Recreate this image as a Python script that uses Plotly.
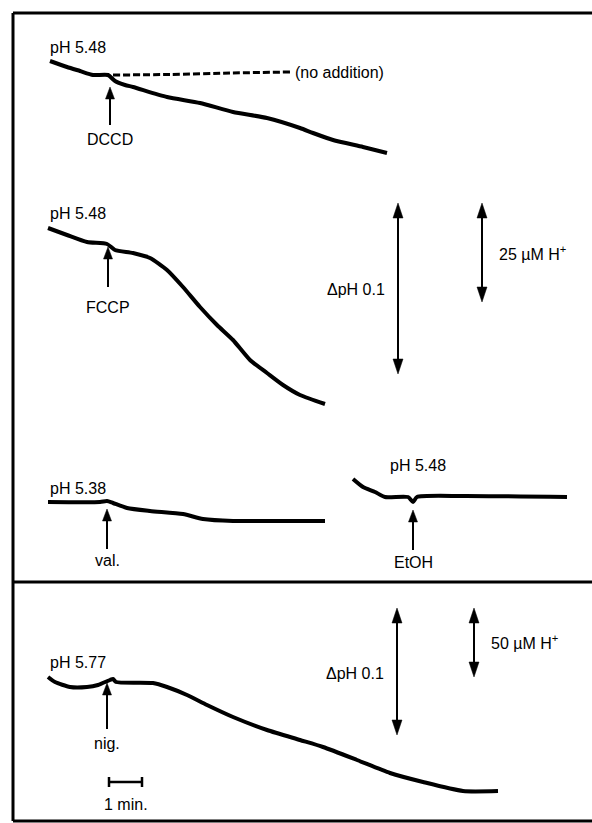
import plotly.graph_objects as go

W, H = 592, 823

dccd_x = [50, 67, 80, 93, 108, 115, 125, 133, 167, 200, 233, 267, 300, 313, 333, 363, 387]
dccd_y = [61, 67, 71, 75, 75, 81, 85, 87, 97, 103, 112, 118, 128, 133, 140, 147, 153]

noadd_x = [113, 170, 230, 290]
noadd_y = [75, 74.5, 73, 72]

fccp_x = [48, 67, 87, 107, 115, 133, 150, 167, 183, 200, 217, 233, 250, 267, 283, 300, 325]
fccp_y = [228, 235, 242, 244, 250, 253, 258, 270, 287, 307, 325, 340, 360, 373, 385, 395, 404]

val_x = [48, 100, 107, 113, 127, 150, 183, 203, 233, 283, 325]
val_y = [502, 502, 501, 503, 508, 511, 514, 519, 521, 521, 521]

etoh_x = [353, 363, 375, 385, 408, 413, 417, 463, 567]
etoh_y = [479, 487, 492, 497, 497, 502, 497, 496, 497]

nig_x = [48, 55, 70, 87, 98, 110, 113, 116, 153, 167, 187, 207, 233, 267, 300, 323, 357, 390, 423, 463, 498]
nig_y = [677, 682, 687, 687, 685, 680, 679, 682, 683, 687, 695, 705, 717, 730, 740, 747, 760, 773, 782, 791, 791]

# ---- additions (arrows under traces) ----
add_labels = ["DCCD", "FCCP", "val.", "EtOH", "nig."]
add_x = [110, 108, 107, 413, 107]
add_tip = [87, 247, 509, 510, 683]
add_base = [125, 287, 549, 550, 729]
add_label_y = [139, 307, 560, 562, 743]

# ---- starting pH labels ----
start_labels = ["pH 5.48", "pH 5.48", "pH 5.38", "pH 5.48", "pH 5.77"]
start_x = [48, 48, 48, 388, 48]
start_y = [47, 213, 488, 465, 662]

# ---- calibration bars ----
cal_x = [398, 482, 397, 474]
cal_top = [203, 203, 608, 608]
cal_bot = [374, 302, 735, 677]
cal_text = ["ΔpH 0.1", "25 µM H<sup>+</sup>", "ΔpH 0.1", "50 µM H<sup>+</sup>"]
cal_text_x = [387, 497, 386, 489]
cal_text_y = [289, 253, 673, 642]
cal_anchor = ["right", "left", "right", "left"]

# ---- time scale bar ----
scale_x = [109, 142]
scale_y = 782
scale_label = "1 min."

FONT = dict(family="Liberation Sans, Arial, Helvetica, sans-serif", size=16, color="black")

fig = go.Figure()

def line_trace(x, y, width=4, dash=None):
    fig.add_trace(go.Scatter(
        x=x, y=y, mode="lines", hoverinfo="skip", showlegend=False,
        line=dict(color="black", width=width, shape="spline", smoothing=0.6, dash=dash)))

for xs, ys in [(dccd_x, dccd_y), (fccp_x, fccp_y), (val_x, val_y), (etoh_x, etoh_y), (nig_x, nig_y)]:
    line_trace(xs, ys)
line_trace(noadd_x, noadd_y, width=3, dash="7px,3px")

def head(x, tip, direction, hw=4.8, hl=13):
    # direction: +1 pointing up (tip above), -1 pointing down
    b = tip + hl * direction
    fig.add_trace(go.Scatter(
        x=[x - hw, x, x + hw, x - hw], y=[b, tip, b, b], mode="lines",
        fill="toself", fillcolor="black", line=dict(color="black", width=0.5),
        hoverinfo="skip", showlegend=False))

def shaft(x, y0, y1, width=2):
    fig.add_trace(go.Scatter(
        x=[x, x], y=[y0, y1], mode="lines", line=dict(color="black", width=width),
        hoverinfo="skip", showlegend=False))

annotations = []

# addition arrows
for lab, x, tip, base, ly in zip(add_labels, add_x, add_tip, add_base, add_label_y):
    head(x, tip, +1, hw=4.5, hl=12)
    shaft(x, tip + 10, base, width=2)
    annotations.append(dict(x=x, y=ly, text=lab, showarrow=False, xanchor="center",
                            yanchor="middle", font=FONT))

# start labels
for lab, x, y in zip(start_labels, start_x, start_y):
    annotations.append(dict(x=x, y=y, text=lab, showarrow=False, xanchor="left",
                            yanchor="middle", font=FONT))

# calibration double arrows
for x, t, b, txt, tx, ty, anc in zip(cal_x, cal_top, cal_bot, cal_text, cal_text_x, cal_text_y, cal_anchor):
    head(x, t, +1, hw=5, hl=15)
    head(x, b, -1, hw=5, hl=15)
    shaft(x, t + 12, b - 12, width=2)
    annotations.append(dict(x=tx, y=ty, text=txt, showarrow=False, xanchor=anc,
                            yanchor="middle", font=FONT))

# no addition label
annotations.append(dict(x=293, y=72, text="(no addition)", showarrow=False, xanchor="left",
                        yanchor="middle", font=FONT))

# time scale bar
shaft(scale_x[0], scale_y - 5, scale_y + 5, width=2.5)
shaft(scale_x[1], scale_y - 5, scale_y + 5, width=2.5)
fig.add_trace(go.Scatter(x=scale_x, y=[scale_y, scale_y], mode="lines",
                         line=dict(color="black", width=2.5), hoverinfo="skip", showlegend=False))
annotations.append(dict(x=sum(scale_x) / 2, y=804, text=scale_label, showarrow=False,
                        xanchor="center", yanchor="middle", font=FONT))

# frame
frame = dict(type="line", xref="x", yref="y", line=dict(color="black", width=3))
shapes = [
    dict(frame, x0=13, y0=13, x1=W, y1=13),
    dict(frame, x0=13, y0=13, x1=13, y1=821),
    dict(frame, x0=13, y0=821, x1=W, y1=821),
    dict(frame, x0=13, y0=582, x1=W, y1=582),
]

fig.update_layout(
    width=W, height=H, margin=dict(l=0, r=0, t=0, b=0),
    paper_bgcolor="white", plot_bgcolor="white",
    xaxis=dict(range=[0, W], visible=False, fixedrange=True),
    yaxis=dict(range=[H, 0], visible=False, fixedrange=True),
    annotations=annotations, shapes=shapes, showlegend=False,
)

fig.write_html("out.html", config={"displayModeBar": False})
